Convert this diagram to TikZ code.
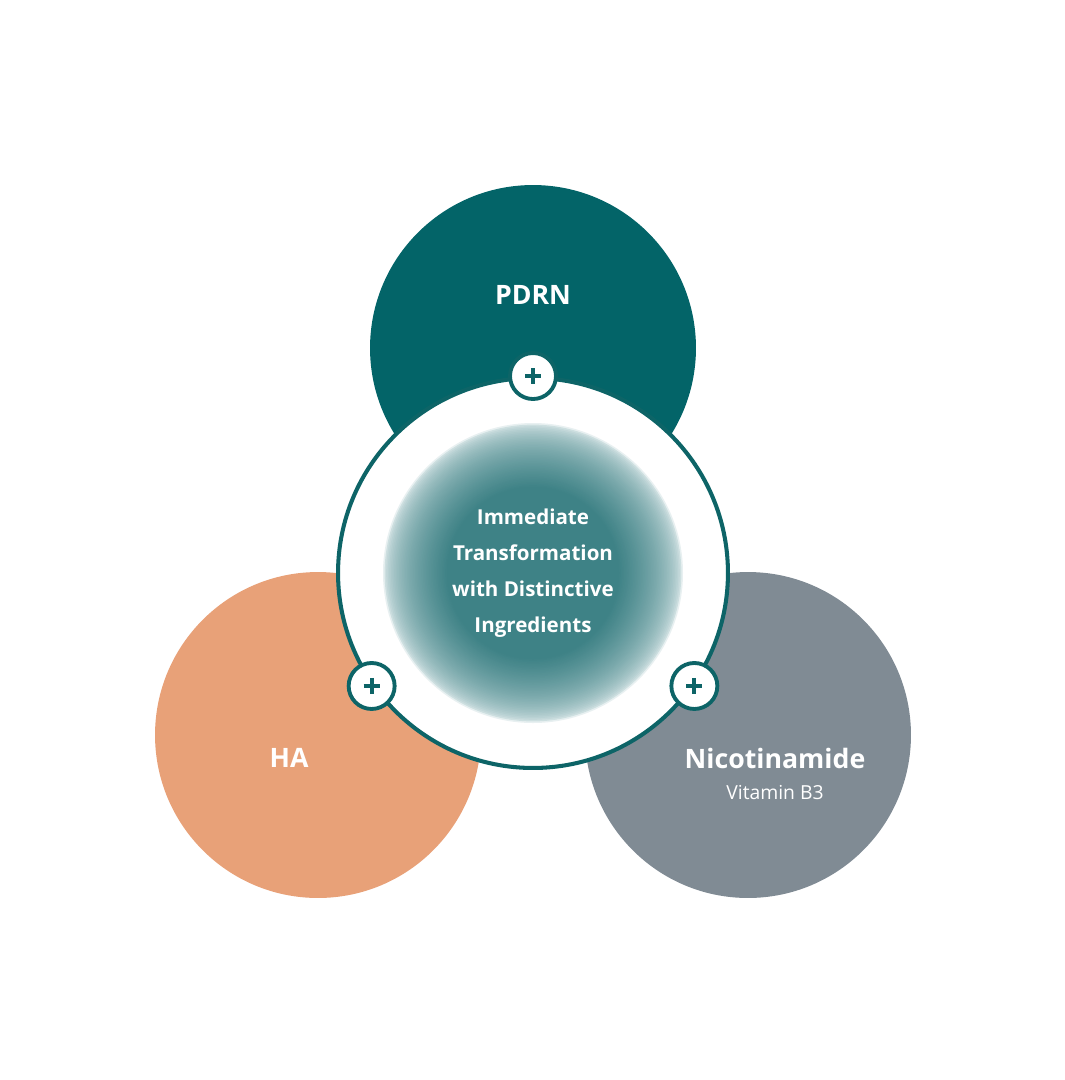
\documentclass[tikz,border=0pt]{standalone}
\usepackage{fontspec}
\setmainfont{Open Sans}
\definecolor{pdrnteal}{HTML}{036468}
\definecolor{ringteal}{HTML}{0D6467}
\definecolor{haorange}{HTML}{E8A178}
\definecolor{nicogrey}{HTML}{808B94}
\definecolor{glowteal}{HTML}{3E8286}
\definecolor{glowedge}{HTML}{E8F0F1}
\tikzset{
	ball/.style = {circle, minimum size=6.52cm, inner sep=0pt},
	badge/.style = {circle, minimum size=0.92cm, inner sep=0pt, fill=white, draw=ringteal, line width=2.2pt},
	plus/.style = {ringteal, line width=2.3pt},
	title/.style = {text=white, font=\bfseries\fontsize{15.2}{18}\selectfont},
}
\begin{document}
\begin{tikzpicture}[x=0.02cm, y=-0.02cm]
		\useasboundingbox[fill=white] (0,0) rectangle (1065,1080);
		% the three ingredients
		\node[ball, fill=pdrnteal] (pdrn) at (533,348) {};
		\node[ball, fill=haorange] (ha) at (318,735) {};
		\node[ball, fill=nicogrey] (nico) at (748,735) {};
		% the ring in the middle
		\node[circle, minimum size=7.8cm, inner sep=0pt, fill=white, draw=ringteal, line width=2.3pt] (ring) at (533,573) {};
		% the glow, faded from the rim inwards
		\foreach \i in {0,...,40} {
			\pgfmathsetmacro\r{150-1.6*\i}
			\pgfmathsetmacro\p{sqrt(\i/40)*100}
			\fill[glowteal!\p!glowedge] (ring.center) circle (\r);
		}
		% plus badges
		\node[badge] (b1) at (ring.90) {};
		\node[badge] (b2) at (ring.215) {};
		\node[badge] (b3) at (ring.325) {};
		\foreach \b in {b1, b2, b3} {
			\draw[plus] (\b) ++(-8,0) -- ++(16,0);
			\draw[plus] (\b) ++(0,-8) -- ++(0,16);
		}
		% labels
		\node[title] (pdrnlabel) at (533,295) {PDRN};
		\node[title] (halabel) at (289,758) {HA};
		\node[title] (nicolabel) at (775,758) {Nicotinamide};
		\node[text=white, font=\fontsize{11}{13}\selectfont] (vitb) at (775,792) {Vitamin B3};
		\node[text=white, align=center, font=\bfseries\fontsize{11.7}{20.5}\selectfont] (core) at (ring.center) {Immediate\\Transformation\\with Distinctive\\Ingredients};
	\end{tikzpicture}
\end{document}
